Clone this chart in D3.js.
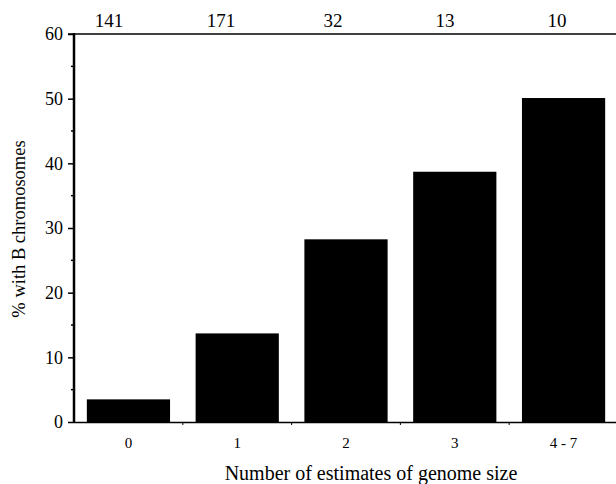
<!DOCTYPE html>
<html>
<head>
<meta charset="utf-8">
<script src="https://cdn.jsdelivr.net/npm/d3@7"></script>
<style>
  body { margin: 0; background: #fff; }
  svg text { font-family: "Liberation Serif", "Times New Roman", serif; fill: #000; }
</style>
</head>
<body>
<div id="vis"></div>
<script>
var categories = ['0', '1', '2', '3', '4 - 7'];
var pctWithB = [3.5, 13.7, 28.25, 38.7, 50.1];
var sampleSizes = [141, 171, 32, 13, 10];
var yTicks = [0, 10, 20, 30, 40, 50, 60];

var width = 616,
    height = 484,
    plotLeft = 74,
    plotTop = 34,
    plotBottom = 422;

var svg = d3.select('#vis')
  .append('svg')
    .attr('width', width)
    .attr('height', height);

var xScale = d3.scaleBand()
  .domain(categories)
  .range([plotLeft, 618])
  .paddingInner(0.235)
  .paddingOuter(0.118);

// the sample-size labels above the frame sit a little left of the bars
var nScale = d3.scalePoint()
  .domain(categories)
  .range([109, 557]);

var yScale = d3.scaleLinear()
  .domain([0, 60])
  .range([plotBottom, plotTop]);

// bars
svg.selectAll('rect.bar')
  .data(pctWithB)
  .enter()
  .append('rect')
    .attr('class', 'bar')
    .attr('x', function(d, i) { return xScale(categories[i]); })
    .attr('width', xScale.bandwidth())
    .attr('y', function(d) { return yScale(d); })
    .attr('height', function(d) { return plotBottom - yScale(d); })
    .style('fill', '#000');

// bottom axis line + boundary ticks
svg.append('line')
  .attr('x1', plotLeft).attr('x2', width)
  .attr('y1', plotBottom + 0.5).attr('y2', plotBottom + 0.5)
  .attr('stroke', '#000').attr('stroke-width', 1.5);

var step = xScale.step();
svg.selectAll('line.xtick')
  .data(categories.slice(1))
  .enter()
  .append('line')
    .attr('class', 'xtick')
    .attr('x1', function(d) { return xScale(d) - (step - xScale.bandwidth()) / 2; })
    .attr('x2', function(d) { return xScale(d) - (step - xScale.bandwidth()) / 2; })
    .attr('y1', plotBottom).attr('y2', plotBottom + 3)
    .attr('stroke', '#000').attr('stroke-width', 1);

// category labels
svg.selectAll('text.xlab')
  .data(categories)
  .enter()
  .append('text')
    .attr('class', 'xlab')
    .attr('x', function(d) { return xScale(d) + xScale.bandwidth() / 2; })
    .attr('y', 448)
    .attr('text-anchor', 'middle')
    .style('font-size', '15px')
    .text(function(d) { return d; });

// top line at 60 with sample sizes
svg.append('line')
  .attr('x1', plotLeft - 6).attr('x2', width)
  .attr('y1', yScale(60)).attr('y2', yScale(60))
  .attr('stroke', '#000').attr('stroke-width', 1.5);

svg.selectAll('text.n')
  .data(sampleSizes)
  .enter()
  .append('text')
    .attr('class', 'n')
    .attr('x', function(d, i) { return nScale(categories[i]); })
    .attr('y', 27)
    .attr('text-anchor', 'middle')
    .style('font-size', '19px')
    .text(function(d) { return d; });

// y axis
var yAxis = d3.axisLeft(yScale)
  .tickValues(yTicks)
  .tickSize(6)
  .tickPadding(5);

var gy = svg.append('g')
  .attr('transform', 'translate(' + plotLeft + ',0)')
  .call(yAxis);
gy.select('.domain').remove();
gy.attr('font-family', null).attr('font-size', null);
gy.selectAll('.tick line').attr('stroke-width', 1.5);
gy.selectAll('.tick text')
  .style('font-family', '"Liberation Serif", "Times New Roman", serif')
  .style('font-size', '18px');

// minor ticks
svg.selectAll('line.minor')
  .data([5, 15, 25, 35, 45, 55])
  .enter()
  .append('line')
    .attr('class', 'minor')
    .attr('x1', plotLeft - 3).attr('x2', plotLeft)
    .attr('y1', function(d) { return yScale(d); })
    .attr('y2', function(d) { return yScale(d); })
    .attr('stroke', '#000').attr('stroke-width', 1.5);

svg.append('line')
  .attr('x1', plotLeft).attr('x2', plotLeft)
  .attr('y1', plotTop - 1).attr('y2', plotBottom + 1)
  .attr('stroke', '#000').attr('stroke-width', 2.5);

// titles
svg.append('text')
  .attr('x', 371)
  .attr('y', 480)
  .attr('text-anchor', 'middle')
  .style('font-size', '20px')
  .text('Number of estimates of genome size');

svg.append('text')
  .attr('transform', 'translate(25,229) rotate(-90)')
  .attr('text-anchor', 'middle')
  .style('font-size', '18.5px')
  .text('% with B chromosomes');
</script>
</body>
</html>
